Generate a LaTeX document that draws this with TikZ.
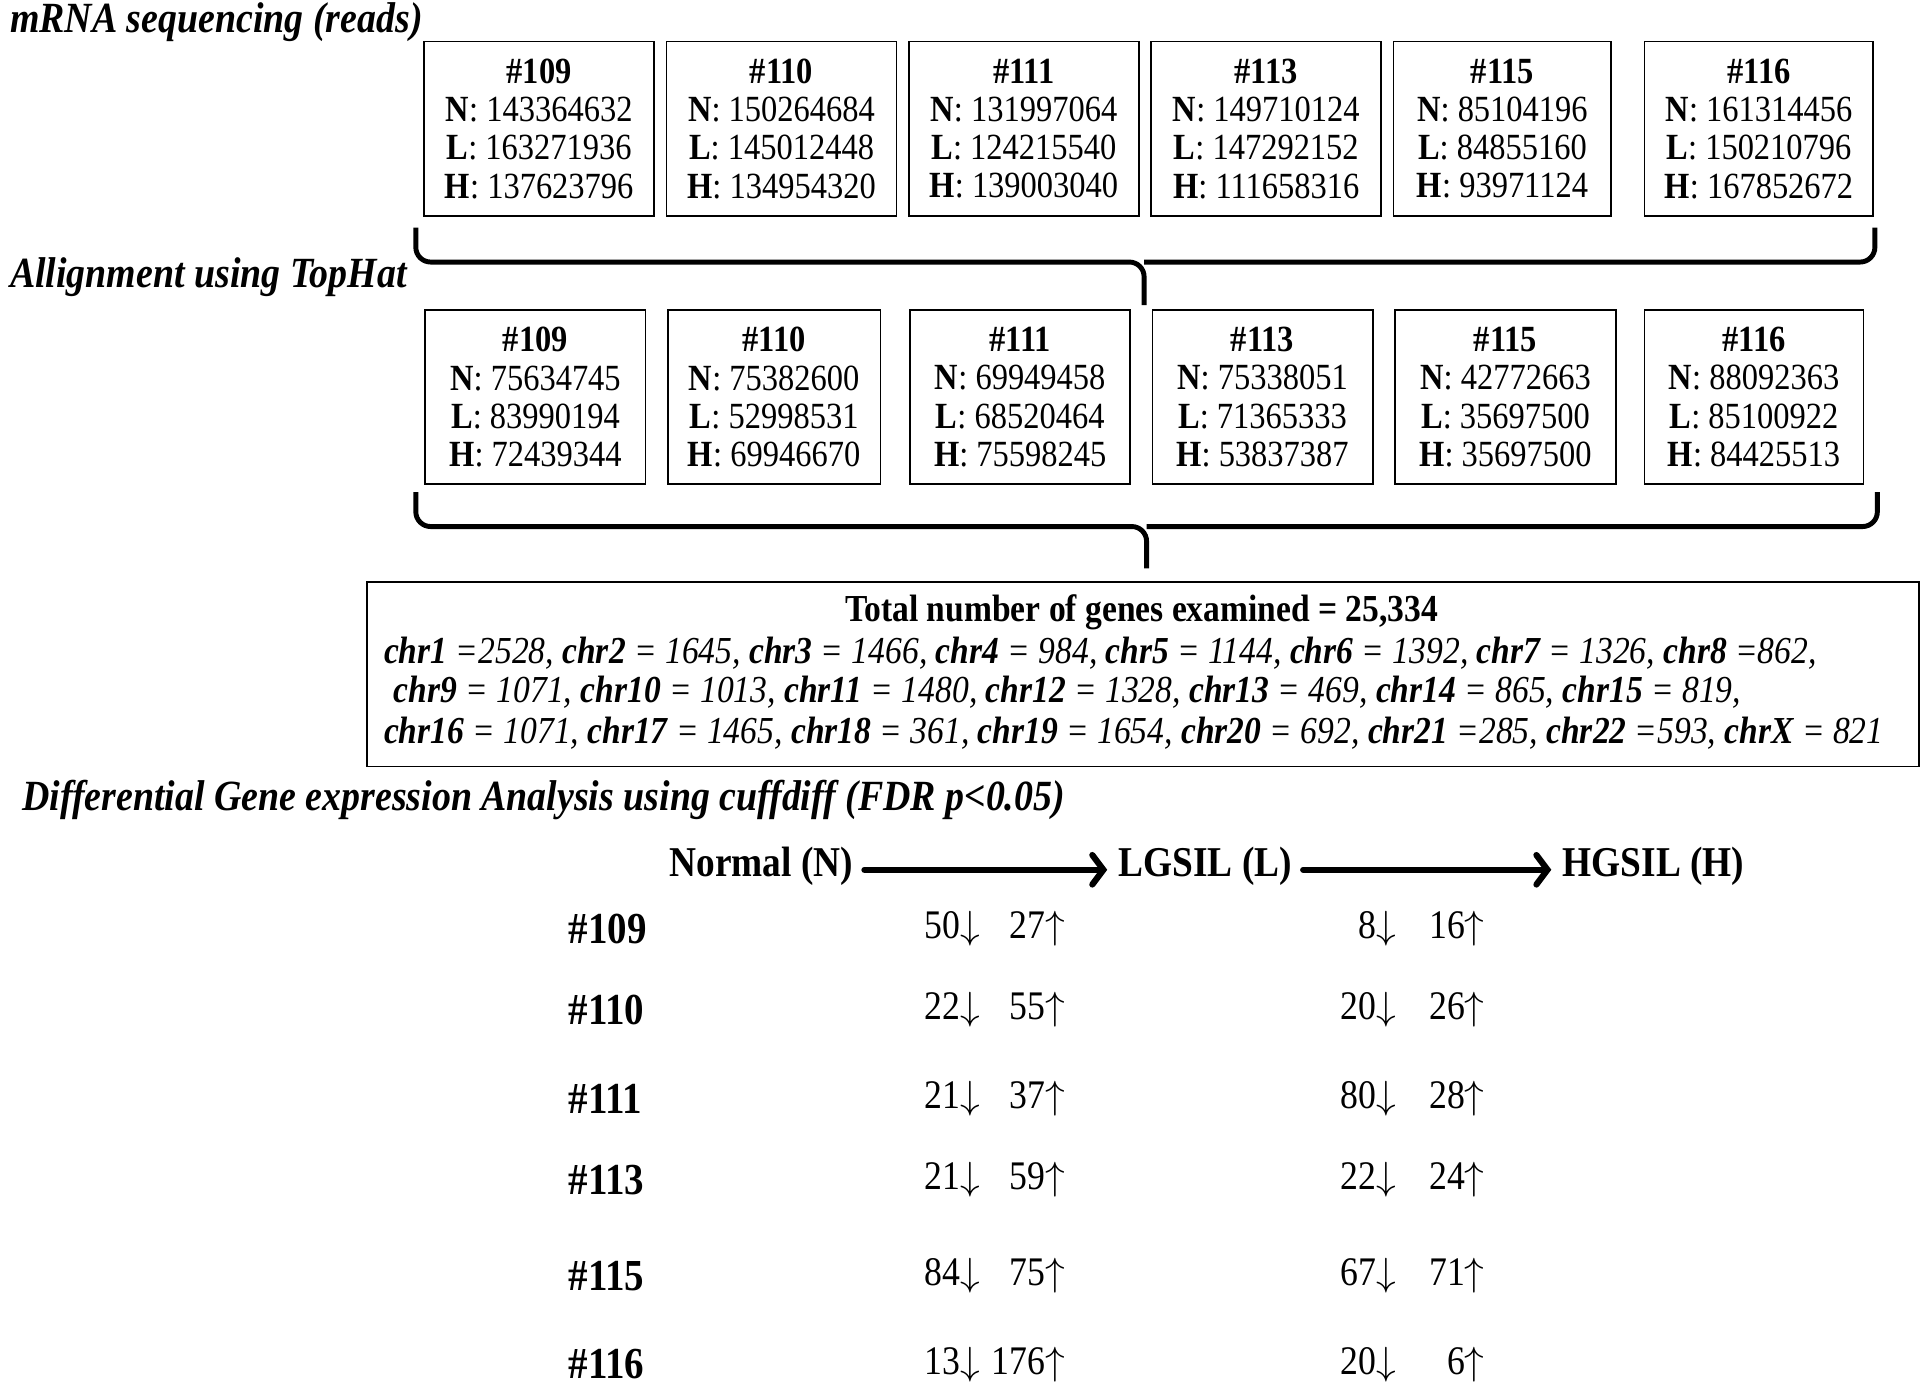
\documentclass[tikz,border=0pt]{standalone}
\usepackage{graphicx}
\usepackage{fontspec}
\setmainfont{Liberation Serif}[FakeStretch=0.88]
\usetikzlibrary{arrows.meta, positioning, calc}

\newcommand{\chrn}[1]{\textbf{chr#1}}
\newcommand{\arrdn}{\scalebox{3.2}{\fontsize{10}{12}\selectfont$\downarrow$}}
\newcommand{\arrup}{\scalebox{3.2}{\fontsize{10}{12}\selectfont$\uparrow$}}

\tikzset{
  databox/.style={draw, line width=1.5pt, inner sep=0pt, minimum height=142pt, anchor=north west, align=center, font=\fontsize{30}{31}\selectfont},
  steptitle/.style={anchor=west, inner sep=0pt, font=\fontsize{35}{36}\selectfont\bfseries\itshape},
  chrline/.style={anchor=west, inner sep=0pt, font=\fontsize{31}{32}\selectfont\itshape},
  bracepath/.style={line width=4pt, rounded corners=12pt},
  hdr/.style={anchor=west, inner sep=0pt, font=\fontsize{34.5}{36}\selectfont\bfseries},
  flow/.style={line width=5pt, line cap=round, -{Straight Barb[length=9pt, width=24pt, line cap=round]}, shorten <=9pt, shorten >=9pt},
  rowlbl/.style={anchor=west, inner sep=0pt, font=\fontsize{36}{38}\selectfont\bfseries},
  cnt/.style={anchor=east, inner sep=0pt, font=\fontsize{33}{35}\selectfont}
}

\begin{document}
\begin{tikzpicture}[x=1pt, y=-1pt]
  \useasboundingbox (0,0) rectangle (1568,1133);

  % Sequencing reads
  \node[steptitle] (seq) at (8,18) {mRNA sequencing (reads)};
  \foreach \id/\x/\w/\vn/\vl/\vh in {109/344/187/143364632/163271936/137623796,
      110/541/187/150264684/145012448/134954320, 111/738/187/131997064/124215540/139003040,
      113/935/187/149710124/147292152/111658316, 115/1132/177/85104196/84855160/93971124,
      116/1336/186/161314456/150210796/167852672}
    \node[databox, minimum width=\w pt] (sq\id) at (\x,33)
      {\textbf{\#\id}\\\textbf{N}: \vn\\\textbf{L}: \vl\\\textbf{H}: \vh};

  % First brace
  \coordinate (b1) at (930,213);
  \draw[bracepath] (338,185) -- (338,213) -- (b1) -- (930,248);
  \draw[bracepath] (1524,185) -- (1524,213) -- (b1);

  % Alignment
  \node[steptitle] (aln) at (8,225) {Allignment using TopHat};
  \foreach \id/\x/\w/\vn/\vl/\vh in {109/345/179/75634745/83990194/72439344,
      110/542/173/75382600/52998531/69946670, 111/739/179/69949458/68520464/75598245,
      113/936/179/75338051/71365333/53837387, 115/1133/180/42772663/35697500/35697500,
      116/1336/178/88092363/85100922/84425513}
    \node[databox, minimum width=\w pt] (al\id) at (\x,251)
      {\textbf{\#\id}\\\textbf{N}: \vn\\\textbf{L}: \vl\\\textbf{H}: \vh};

  % Second brace
  \coordinate (b2) at (932,428);
  \draw[bracepath] (338,400) -- (338,428) -- (b2) -- (932,462);
  \draw[bracepath] (1526,400) -- (1526,428) -- (b2);

  % Genes examined
  \node[draw, line width=1.5pt, minimum width=1262pt, minimum height=150pt] (genes) at (929,548) {};
  \node[inner sep=0pt, font=\fontsize{31}{32}\selectfont\bfseries] (tot) at (928,498) {Total number of genes examined = 25,334};
  \node[chrline] (c1) at (312,531) {\chrn{1} =2528, \chrn{2} = 1645, \chrn{3} = 1466, \chrn{4} = 984, \chrn{5} = 1144, \chrn{6} = 1392, \chrn{7} = 1326, \chrn{8} =862,};
  \node[chrline] (c2) at (320,563) {\chrn{9} = 1071, \chrn{10} = 1013, \chrn{11} = 1480, \chrn{12} = 1328, \chrn{13} = 469, \chrn{14} = 865, \chrn{15} = 819,};
  \node[chrline] (c3) at (312,596) {\chrn{16} = 1071, \chrn{17} = 1465, \chrn{18} = 361, \chrn{19} = 1654, \chrn{20} = 692, \chrn{21} =285, \chrn{22} =593, \chrn{X} = 821};

  % Differential expression
  \node[steptitle] (dge) at (18,650) {Differential Gene expression Analysis using cuffdiff (FDR p<0.05)};
  \node[hdr] (nrm) at (544,704) {Normal (N)};
  \node[hdr] (lgs) at (909,704) {LGSIL (L)};
  \node[hdr] (hgs) at (1270,704) {HGSIL (H)};
  \draw[flow] ([yshift=-3pt]nrm.east) -- ([yshift=-3pt]lgs.west);
  \draw[flow] ([yshift=-3pt]lgs.east) -- ([yshift=-3pt]hgs.west);

  \foreach \id/\y/\a/\b/\c/\d in {109/755/50/27/8/16, 110/821/22/55/20/26,
      111/893/21/37/80/28, 113/959/21/59/22/24, 115/1037/84/75/67/71, 116/1109/13/176/20/6}
  {
    \node[rowlbl] (r\id) at (462,\y) {\#\id};
    \node[cnt] (nd\id) at (797,\y) {\a\arrdn};
    \node[cnt] (nu\id) at (866,\y) {\b\arrup};
    \node[cnt] (ld\id) at (1135,\y) {\c\arrdn};
    \node[cnt] (lu\id) at (1207,\y) {\d\arrup};
  }
\end{tikzpicture}
\end{document}
